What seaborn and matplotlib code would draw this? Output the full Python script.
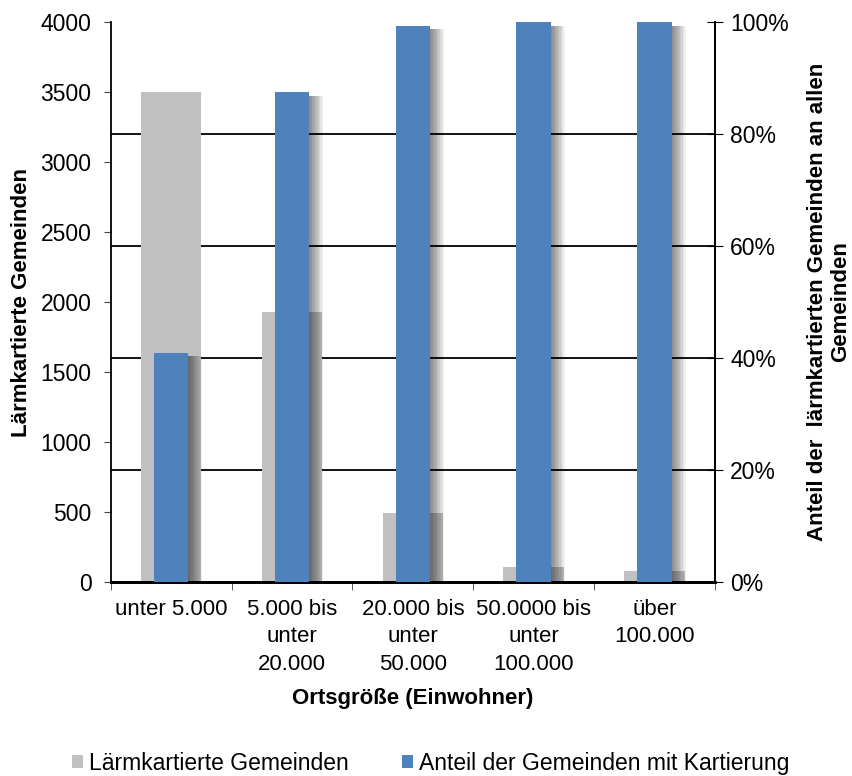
import numpy as np
import matplotlib
matplotlib.use("Agg")
import matplotlib.pyplot as plt
import matplotlib.patheffects as pe
from matplotlib.patches import Patch
from matplotlib.ticker import PercentFormatter
import seaborn as sns

# data
kategorien = ["unter 5.000", "5.000 bis\nunter\n20.000", "20.000 bis\nunter\n50.000",
              "50.0000 bis\nunter\n100.000", "über\n100.000"]
laermkartiert = [3500, 1926, 493, 107, 79]          # left axis (count)
anteil_kartiert = [40.9, 87.5, 99.3, 100, 100]      # right axis (%)

sns.set_style("white")
plt.rcParams["font.family"] = ["Liberation Sans", "DejaVu Sans"]
plt.rcParams["font.size"] = 16
for key in ("text.color", "axes.labelcolor", "xtick.labelcolor", "ytick.labelcolor"):
    plt.rcParams[key] = "black"

grau = "#C0C0C0"
blau = "#4F81BD"
fs = 16

fig, ax1 = plt.subplots(figsize=(8.53, 7.76), dpi=100)
fig.subplots_adjust(left=0.130, right=0.838, top=0.9716, bottom=0.25)

# gray bars (count)
sns.barplot(x=kategorien, y=laermkartiert, ax=ax1, color=grau, width=0.5,
            saturation=1, linewidth=0, edgecolor="none", zorder=2)

# gridlines every 20% of the right axis, drawn on the lower axis so bars cover them
ax1.set_ylim(0, 4000)
ax1.set_yticks(np.arange(0, 4001, 500))
ax1.set_yticks(np.arange(800, 4001, 800), minor=True)
ax1.grid(which="minor", axis="y", color="black", linewidth=1.3, zorder=0)
ax1.set_axisbelow(True)
ax1.tick_params(axis="y", which="minor", length=0)
ax1.tick_params(axis="y", which="major", length=5, direction="out", color="#444444",
                pad=9, labelsize=16.5, left=True)

ax2 = ax1.twinx()
sns.barplot(x=kategorien, y=anteil_kartiert, ax=ax2, color=blau, width=0.285,
            saturation=1, linewidth=0, edgecolor="none", zorder=3)
ax2.set_ylim(0, 100)
ax2.set_yticks(np.arange(0, 101, 20))
ax2.yaxis.set_major_formatter(PercentFormatter(decimals=0))
ax2.tick_params(axis="y", length=12, direction="inout", color="black", pad=5,
                labelsize=16.5, right=True)

# soft shadow to the right of the blue bars
schatten = [pe.SimplePatchShadow(offset=(d, -2.5), shadow_rgbFace="black", alpha=0.055)
            for d in range(1, 11)] + [pe.Normal()]
for bar in ax2.patches:
    bar.set_path_effects(schatten)

# x axis: labels at centers, ticks at the category boundaries
ax1.set_xlim(-0.5, len(kategorien) - 0.5)
ax1.set_xticks(np.arange(-0.5, len(kategorien), 1.0), minor=True)
ax1.tick_params(axis="x", which="minor", length=6, direction="out", color="#444444",
                bottom=True)
ax1.tick_params(axis="x", which="major", length=0, pad=12)
for lbl in ax1.get_xticklabels():
    lbl.set_linespacing(1.41)
    lbl.set_fontsize(fs)

for ax in (ax1, ax2):
    ax.spines["top"].set_visible(False)
    ax.spines["left"].set_color("black")
    ax.spines["right"].set_color("black")
    ax.spines["bottom"].set_color("black")
    ax.spines["bottom"].set_linewidth(2)
    ax.spines["left"].set_linewidth(1.3)
    ax.spines["right"].set_linewidth(1.3)
ax2.spines["left"].set_visible(False)

ax1.set_ylabel("Lärmkartierte Gemeinden", fontsize=fs, fontweight="bold", labelpad=6)
ax2.set_ylabel("Anteil der  lärmkartierten Gemeinden an allen\nGemeinden",
               fontsize=fs, fontweight="bold", labelpad=13, linespacing=1.12)
ax1.set_xlabel("Ortsgröße (Einwohner)", fontsize=fs, fontweight="bold")
ax1.xaxis.set_label_coords(0.5, -0.19)
ax1.xaxis.label.set_va("top")

handles = [Patch(facecolor=grau, edgecolor="none", label="Lärmkartierte Gemeinden"),
           Patch(facecolor=blau, edgecolor="none", label="Anteil der Gemeinden mit Kartierung")]
fig.legend(handles=handles, loc="center", bbox_to_anchor=(0.505, 0.016), ncol=2,
           frameon=False, fontsize=16.5, handlelength=0.5, handleheight=0.5,
           handletextpad=0.27, columnspacing=2.3)

fig.savefig("out.png", dpi=100)
